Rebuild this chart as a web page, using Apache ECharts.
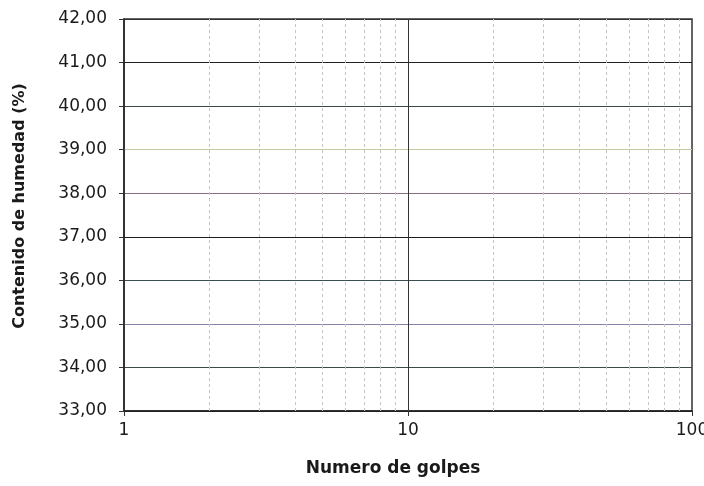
<!DOCTYPE html>
<html><head><meta charset="utf-8">
<script src="https://cdn.jsdelivr.net/npm/echarts@6/dist/echarts.min.js"></script>
<style>html,body{margin:0;padding:0;background:#fff}#c{width:704px;height:486px}</style>
</head><body><div id="c"></div>
<script>
// Empty chart (no data points plotted in the reference)
const xMin = 1, xMax = 100;
const yMin = 33, yMax = 42, yStep = 1;
const xMinorGrid = [2,3,4,5,6,7,8,9,20,30,40,50,60,70,80,90];
const xMajorGrid = [10];
const hGridColors = ['#222','#3a4a4a','#8c80a8','#3a5050','#1c1c1c','#8a6e80','#c8c8a0','#3a4848','#222','#333'];
const seriesData = [];

const font = '"DejaVu Sans", Arial, sans-serif';
const chart = echarts.init(document.getElementById('c'));
chart.setOption({
  backgroundColor: '#fff',
  animation: false,
  grid: {left: 124, right: 12, top: 19, bottom: 75, containLabel: false, outerBoundsMode: 'none',
    show: true, borderColor: '#333', borderWidth: 1.5, backgroundColor: 'transparent'},
  xAxis: {
    type: 'log', logBase: 10, min: xMin, max: xMax,
    name: 'Numero de golpes', nameLocation: 'middle', nameGap: 49,
    nameTextStyle: {fontFamily: font, fontWeight: 'bold', fontSize: 17, color: '#1a1a1a', padding: [0, 30, 0, 0]},
    axisLine: {show: true, lineStyle: {color: '#222', width: 1.5}},
    axisTick: {show: true, length: 5, lineStyle: {color: '#333'}},
    axisLabel: {fontFamily: font, fontSize: 17, color: '#1a1a1a', margin: 11},
    splitLine: {show: false},
    minorTick: {show: false}, minorSplitLine: {show: false}
  },
  yAxis: {
    type: 'value', min: yMin, max: yMax, interval: yStep,
    name: 'Contenido de humedad (%)', nameLocation: 'middle', nameGap: 96,
    nameTextStyle: {fontFamily: font, fontWeight: 'bold', fontSize: 16, color: '#1a1a1a', padding: [0, 0, 0, 18]},
    axisLine: {show: true, lineStyle: {color: '#222', width: 1.5}},
    axisTick: {show: true, length: 5, lineStyle: {color: '#333'}},
    axisLabel: {fontFamily: font, fontSize: 17, color: '#1a1a1a', margin: 17,
      formatter: v => v.toFixed(2).replace('.', ',')},
    splitLine: {show: true, lineStyle: {color: hGridColors, width: 1}}
  },
  series: [{
    type: 'line', data: seriesData, symbol: 'none', silent: true,
    markLine: {
      silent: true, symbol: 'none', label: {show: false},
      data: xMinorGrid.map(v => ({xAxis: v, lineStyle: {color: '#c4c4c4', type: [3, 3], width: 1}}))
        .concat(xMajorGrid.map(v => ({xAxis: v, lineStyle: {color: '#333', type: 'solid', width: 1}})))
    }
  }]
});
</script></body></html>
